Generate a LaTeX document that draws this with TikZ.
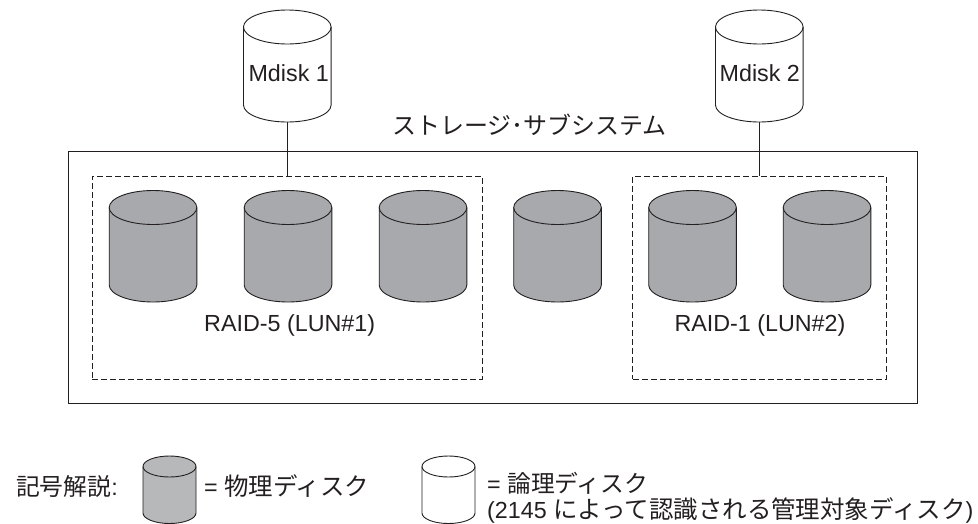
\documentclass[tikz,border=0pt]{standalone}
\usepackage{fontspec}
\setmainfont{Liberation Sans}
\newfontfamily\cjk{Noto Sans CJK JP}[Scale=1.02]
\newfontfamily\cjkw{Noto Sans CJK JP}[Scale=1.05]
\newcommand{\cyl}[6]{% x, ytop-center, rx, ry, h, fill (pixel coordinates)
  \fill[#6] (#1-#3,-#2) -- ++(0,-#5) arc[start angle=180,end angle=360,x radius=#3,y radius=#4] -- ++(0,#5) -- cycle;
  \fill[#6] (#1,-#2) ellipse[x radius=#3,y radius=#4];
  \draw[cylline] (#1-#3,-#2) -- ++(0,-#5) arc[start angle=180,end angle=360,x radius=#3,y radius=#4] -- ++(0,#5);
  \draw[cylline] (#1,-#2) ellipse[x radius=#3,y radius=#4];
}
\definecolor{phys}{HTML}{A7A9AC}
\definecolor{physkey}{HTML}{B7B8BA}
\definecolor{ink}{HTML}{231F20}
\tikzset{x=1pt,y=1pt,
  cylline/.style={draw=ink,line width=0.9pt},
  lbl/.style={inner sep=0pt,anchor=base,text=ink,font=\fontsize{23.3}{26}\selectfont},
  jlbl/.style={inner sep=0pt,anchor=base west,text=ink,font=\fontsize{23.3}{26}\selectfont},
  link/.style={draw=ink,line width=0.9pt},
  box/.style={draw=ink,line width=0.9pt,inner sep=0pt},
  dbox/.style={draw=ink,line width=0.8pt,dash pattern=on 6pt off 3pt,inner sep=0pt}
}
\begin{document}
\begin{tikzpicture}
\useasboundingbox (0,0) rectangle (978,-523);
\coordinate (m1b) at (287.3,-120.5);
\coordinate (m2b) at (759.3,-120.5);
\coordinate (r5) at (287.3,-176);
\coordinate (r1) at (759.3,-176);
\node[box,minimum width=849pt,minimum height=252.5pt] (outer) at (492.5,-277.25) {};
\draw[link] (m1b) -- (r5);
\draw[link] (m2b) -- (r1);
\cyl{287.3}{27}{43.8}{17}{78}{white}
\cyl{759.3}{27}{43.8}{17}{78}{white}
\node[lbl] (m1) at (288.7,-81.5) {Mdisk 1};
\node[lbl] (m2) at (759.8,-81.5) {Mdisk 2};
\node[jlbl,font=\fontsize{23.5}{26}\selectfont\cjk] (ss) at (392,-134) {ストレージ･サブシステム};
\node[dbox,minimum width=390pt,minimum height=203pt] (raid5) at (287,-277.5) {};
\node[dbox,minimum width=253.5pt,minimum height=203pt] (raid1) at (759.5,-277.5) {};
\cyl{153}{207.5}{43.8}{17}{77.5}{phys}
\cyl{288}{207.5}{43.8}{17}{77.5}{phys}
\cyl{423}{207.5}{43.8}{17}{77.5}{phys}
\cyl{557.5}{207.5}{43.8}{17}{77.5}{phys}
\cyl{692.5}{207.5}{43.8}{17}{77.5}{phys}
\cyl{827}{207.5}{43.8}{17}{77.5}{phys}
\node[lbl] (rl5) at (289.7,-331.5) {RAID-5 (LUN\#1)};
\node[lbl] (rl1) at (760,-331.5) {RAID-1 (LUN\#2)};
\node[jlbl] (key) at (16,-495) {{\cjk 記号解説}:};
\cyl{169.5}{466.5}{26.5}{10.5}{46.5}{physkey}
\node[jlbl] (kp) at (204,-495) {= {\cjkw 物理ディスク}};
\cyl{448.5}{466.5}{26.5}{10.5}{46.5}{white}
\node[jlbl] (kl) at (487,-492) {= {\cjk 論理ディスク}};
\node[jlbl] (kl2) at (487,-518) {(2145 {\cjkw によって認識される管理対象ディスク})};
\end{tikzpicture}
\end{document}
